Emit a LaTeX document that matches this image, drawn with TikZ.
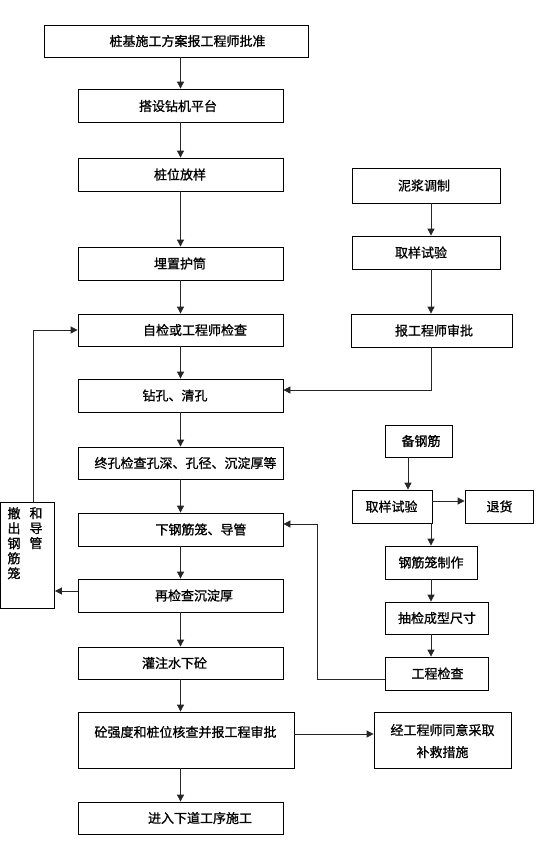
\documentclass[tikz,border=0pt]{standalone}
\usepackage{fontspec}
\newfontfamily\cjk[FakeBold=1]{Noto Sans CJK SC}
\usetikzlibrary{arrows.meta}
\tikzset{
  x=1pt, y=-1pt,
  box/.style={draw=black, line width=0.8pt, rectangle, inner sep=0pt, fill=white},
  txt/.style={inner sep=0pt, font=\cjk\fontsize{13}{15}\selectfont, text=black},
  arr/.style={draw=black!85, line width=0.8pt, -{Triangle[length=7pt,width=7pt]}},
  ln/.style={draw=black!85, line width=0.8pt}
}
\begin{document}
\begin{tikzpicture}
\useasboundingbox (0,0) rectangle (555,863);
% main column boxes
\node[box, minimum width=264pt, minimum height=32pt] (b1) at (176,41) {};
\node[box, minimum width=205pt, minimum height=33pt] (b2) at (180.5,105.5) {};
\node[box, minimum width=205pt, minimum height=33pt] (b3) at (180.5,174.5) {};
\node[box, minimum width=205pt, minimum height=33pt] (b4) at (180.5,263.5) {};
\node[box, minimum width=205pt, minimum height=32pt] (b5) at (180.5,330) {};
\node[box, minimum width=205pt, minimum height=33pt] (b6) at (180.5,395.5) {};
\node[box, minimum width=205pt, minimum height=32pt] (b7) at (180.5,463) {};
\node[box, minimum width=205pt, minimum height=33pt] (b8) at (180.5,529.5) {};
\node[box, minimum width=205pt, minimum height=33pt] (b9) at (180.5,595.5) {};
\node[box, minimum width=205pt, minimum height=32pt] (b10) at (180.5,663) {};
\node[box, minimum width=216pt, minimum height=56pt] (b11) at (186,740) {};
\node[box, minimum width=205pt, minimum height=32pt] (b12) at (180.5,818) {};
% right column boxes
\node[box, minimum width=148pt, minimum height=35pt] (r1) at (426,185.5) {};
\node[box, minimum width=148pt, minimum height=33pt] (r2) at (426,252.5) {};
\node[box, minimum width=161pt, minimum height=33pt] (r3) at (431.5,330.5) {};
\node[box, minimum width=67pt, minimum height=32pt] (s1) at (418.5,441) {};
\node[box, minimum width=80pt, minimum height=33pt] (s2) at (392,506.5) {};
\node[box, minimum width=68pt, minimum height=33pt] (s3) at (499,506.5) {};
\node[box, minimum width=92pt, minimum height=33pt] (s4) at (431,562.5) {};
\node[box, minimum width=103pt, minimum height=32pt] (s5) at (436.5,618) {};
\node[box, minimum width=103pt, minimum height=33pt] (s6) at (436.5,673.5) {};
\node[box, minimum width=137pt, minimum height=56pt] (s7) at (442.5,740) {};
\node[box, minimum width=54pt, minimum height=106pt] (lb) at (27.5,555) {};
% texts
\node[txt] (t1) at (187.5,41) {桩基施工方案报工程师批准};
\node[txt] (t2) at (178,106) {搭设钻机平台};
\node[txt] (t3) at (180,174.5) {桩位放样};
\node[txt] (t4) at (180,263.5) {埋置护筒};
\node[txt] (t5) at (195,330) {自检或工程师检查};
\node[txt] (t6) at (175,395.5) {钻孔、清孔};
\node[txt] (t7) at (185.5,463) {终孔检查孔深、孔径、沉淀厚等};
\node[txt] (t8) at (201,529.5) {下钢筋笼、导管};
\node[txt] (t9) at (194,595.5) {再检查沉淀厚};
\node[txt] (t10) at (174.5,663) {灌注水下砼};
\node[txt] (t11) at (185.5,732) {砼强度和桩位核查并报工程审批};
\node[txt] (t12) at (200,818) {进入下道工序施工};
\node[txt] (u1) at (424,185.5) {泥浆调制};
\node[txt] (u2) at (421,252.5) {取样试验};
\node[txt] (u3) at (434,330.5) {报工程师审批};
\node[txt] (v1) at (421,441) {备钢筋};
\node[txt] (v2) at (391.5,506.5) {取样试验};
\node[txt] (v3) at (499.5,506.5) {退货};
\node[txt] (v4) at (431,562.5) {钢筋笼制作};
\node[txt] (v5) at (437,618) {抽检成型尺寸};
\node[txt] (v6) at (437.5,673.5) {工程检查};
\node[txt, align=center, font=\cjk\fontsize{13}{22}\selectfont] (v7) at (442.5,741) {经工程师同意采取\\补救措施};
\node[txt, anchor=north, align=center, font=\cjk\fontsize{13}{15}\selectfont] (lt1) at (14,507) {撤\\出\\钢\\筋\\笼};
\node[txt, anchor=north, align=center, font=\cjk\fontsize{13}{15}\selectfont] (lt2) at (36,507) {和\\导\\管};
% helper coordinates
\coordinate (cr) at (431,0);
\coordinate (k1) at (431,390);
\coordinate (k2) at (408,0);
\coordinate (k3) at (0,501);
\coordinate (k4) at (317,679);
\coordinate (k5) at (317,524);
\coordinate (k6) at (0,591);
\coordinate (k7) at (33,330);
\coordinate (k8) at (0,734);
% main column arrows
\draw[arr] (b1.south -| b2.north) -- (b2.north);
\draw[arr] (b2.south) -- (b3.north);
\draw[arr] (b3.south) -- (b4.north);
\draw[arr] (b4.south) -- (b5.north);
\draw[arr] (b5.south) -- (b6.north);
\draw[arr] (b6.south) -- (b7.north);
\draw[arr] (b7.south) -- (b8.north);
\draw[arr] (b8.south) -- (b9.north);
\draw[arr] (b9.south) -- (b10.north);
\draw[arr] (b10.south) -- (b10.south |- b11.north);
\draw[arr] (b11.south -| b12.north) -- (b12.north);
% right column arrows
\draw[arr] (r1.south -| cr) -- (r2.north -| cr);
\draw[arr] (r2.south -| cr) -- (r3.north -| cr);
\draw[arr] (r3.south -| k1) -- (k1) -- (k1 -| b6.east);
\draw[arr] (s1.south -| k2) -- (s2.north -| k2);
\draw[arr] (s2.east |- k3) -- (s3.west |- k3);
\draw[arr] (s2.south -| cr) -- (s4.north -| cr);
\draw[arr] (s4.south -| cr) -- (s5.north -| cr);
\draw[arr] (s5.south -| cr) -- (s6.north -| cr);
\draw[arr] (s6.west |- k4) -- (k4) -- (k5) -- (k5 -| b8.east);
% left loop
\draw[arr] (b9.west |- k6) -- (lb.east |- k6);
\draw[arr] (lb.north -| k7) -- (k7) -- (b5.west);
% remedy
\draw[arr] (b11.east |- k8) -- (s7.west |- k8);
\end{tikzpicture}
\end{document}
